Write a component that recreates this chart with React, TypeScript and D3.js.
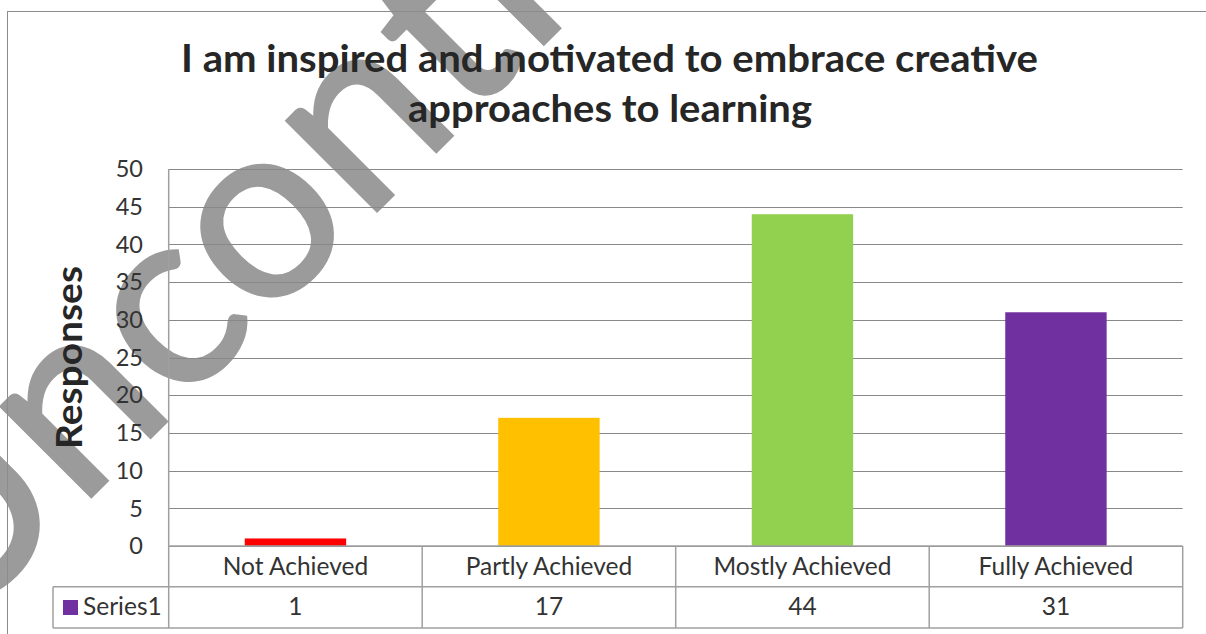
import React from "react";
import * as d3 from "d3";

const categories = ["Not Achieved", "Partly Achieved", "Mostly Achieved", "Fully Achieved"];
const values = [1, 17, 44, 31];
const barColors = ["#FF0000", "#FFC000", "#92D050", "#7030A0"];
const yTicks = [0, 5, 10, 15, 20, 25, 30, 35, 40, 45, 50];
const titleLines = ["I am inspired and motivated to embrace creative", "approaches to learning"];
const seriesName = "Series1";
const axisTitle = "Responses";
const watermark = "Uncontrolled";

const W = 1206;
const H = 634;
const plotLeft = 168.7;
const plotRight = 1182.7;
const plotTop = 169;
const plotBottom = 546;
const rowMid = 586.7;
const tableBottom = 628;
const legendLeft = 53;
const font = "Lato, 'Open Sans', 'Liberation Sans', sans-serif";

// approximate glyph advances (em) of the original watermark font, used for letter spacing
const wmAdvance: Record<string, number> = {
  U: 0.653, n: 0.525, c: 0.423, o: 0.527, t: 0.335, r: 0.349, l: 0.229, e: 0.498, d: 0.525,
};
const wmEm = 274;

export default function App() {
  const y = d3.scaleLinear().domain([0, 50]).range([plotBottom, plotTop]);
  const x = d3
    .scaleBand<string>()
    .domain(categories)
    .range([plotLeft, plotRight])
    .paddingInner(0.6)
    .paddingOuter(0.3);
  const col = d3.scaleBand<string>().domain(categories).range([plotLeft, plotRight]).padding(0);

  let cum = 0;
  const wmGlyphs = watermark.split("").map((ch) => {
    const adv = (wmAdvance[ch] ?? 0.5) * wmEm;
    const cx = cum + adv / 2;
    cum += adv;
    return { ch, cx };
  });

  return (
    <svg
      width={W}
      height={H}
      style={{ position: "absolute", left: 0, top: 0, background: "#fff" }}
      fontFamily={font}
    >
      {/* watermark */}
      <text
        transform="translate(-49,637) rotate(-45)"
        fontSize={252}
        fill="#9b9b9b"
        stroke="#9b9b9b"
        strokeWidth={3}
        textAnchor="middle"
        fontFamily={font}
      >
        {wmGlyphs.map((g, i) => (
          <tspan key={i} x={g.cx} y={0}>
            {g.ch}
          </tspan>
        ))}
      </text>

      {/* chart border */}
      <rect x={7.5} y={11.5} width={1220} height={650} fill="none" stroke="#8c8c8c" strokeWidth={1} />

      {/* title */}
      <text
        x={609.5}
        y={72}
        textAnchor="middle"
        fontSize={38}
        fontWeight="bold"
        fill="#262626"
        textLength={857}
        lengthAdjust="spacingAndGlyphs"
      >
        {titleLines[0]}
      </text>
      <text
        x={610}
        y={122}
        textAnchor="middle"
        fontSize={38}
        fontWeight="bold"
        fill="#262626"
        textLength={404}
        lengthAdjust="spacingAndGlyphs"
      >
        {titleLines[1]}
      </text>

      {/* gridlines */}
      {yTicks.map((t) => (
        <line
          key={t}
          x1={plotLeft}
          x2={plotRight}
          y1={Math.round(y(t)) + 0.5}
          y2={Math.round(y(t)) + 0.5}
          stroke="#888"
          strokeWidth={1}
        />
      ))}

      {/* tick labels */}
      {yTicks.map((t) => (
        <text
          key={t}
          x={143}
          y={y(t)}
          dy="0.35em"
          textAnchor="end"
          fontSize={23.5}
          fill="#333"
        >
          {t}
        </text>
      ))}

      {/* axis title */}
      <text
        transform={`translate(82,${(plotTop + plotBottom) / 2}) rotate(-90)`}
        textAnchor="middle"
        fontSize={36}
        fontWeight="bold"
        fill="#262626"
        textLength={183}
        lengthAdjust="spacingAndGlyphs"
      >
        {axisTitle}
      </text>

      {/* bars */}
      {categories.map((c, i) => (
        <rect
          key={c}
          x={x(c)}
          y={y(values[i])}
          width={x.bandwidth()}
          height={y(0) - y(values[i])}
          fill={barColors[i]}
        />
      ))}

      {/* data table */}
      <g stroke="#a0a0a0" strokeWidth={1.5} fill="none">
        <line x1={plotLeft} x2={plotLeft} y1={plotTop} y2={tableBottom} />
        <line x1={plotLeft} x2={plotRight} y1={plotBottom} y2={plotBottom} />
        <line x1={legendLeft} x2={plotRight} y1={rowMid} y2={rowMid} />
        <line x1={legendLeft} x2={plotRight} y1={tableBottom} y2={tableBottom} />
        <line x1={legendLeft} x2={legendLeft} y1={rowMid} y2={tableBottom} />
        {categories.map((c) => (
          <line key={c} x1={(col(c) as number) + col.bandwidth()} x2={(col(c) as number) + col.bandwidth()} y1={plotBottom} y2={tableBottom} />
        ))}
      </g>

      {categories.map((c, i) => {
        const cx = (col(c) as number) + col.bandwidth() / 2;
        return (
          <g key={c}>
            <text x={cx} y={575} textAnchor="middle" fontSize={24.5} fill="#333">
              {c}
            </text>
            <text x={cx} y={615} textAnchor="middle" fontSize={24.5} fill="#333">
              {values[i]}
            </text>
          </g>
        );
      })}

      {/* legend key */}
      <rect x={63} y={600} width={15} height={15} fill={barColors[3]} />
      <text x={83} y={615} fontSize={24.5} fill="#333">
        {seriesName}
      </text>
    </svg>
  );
}
